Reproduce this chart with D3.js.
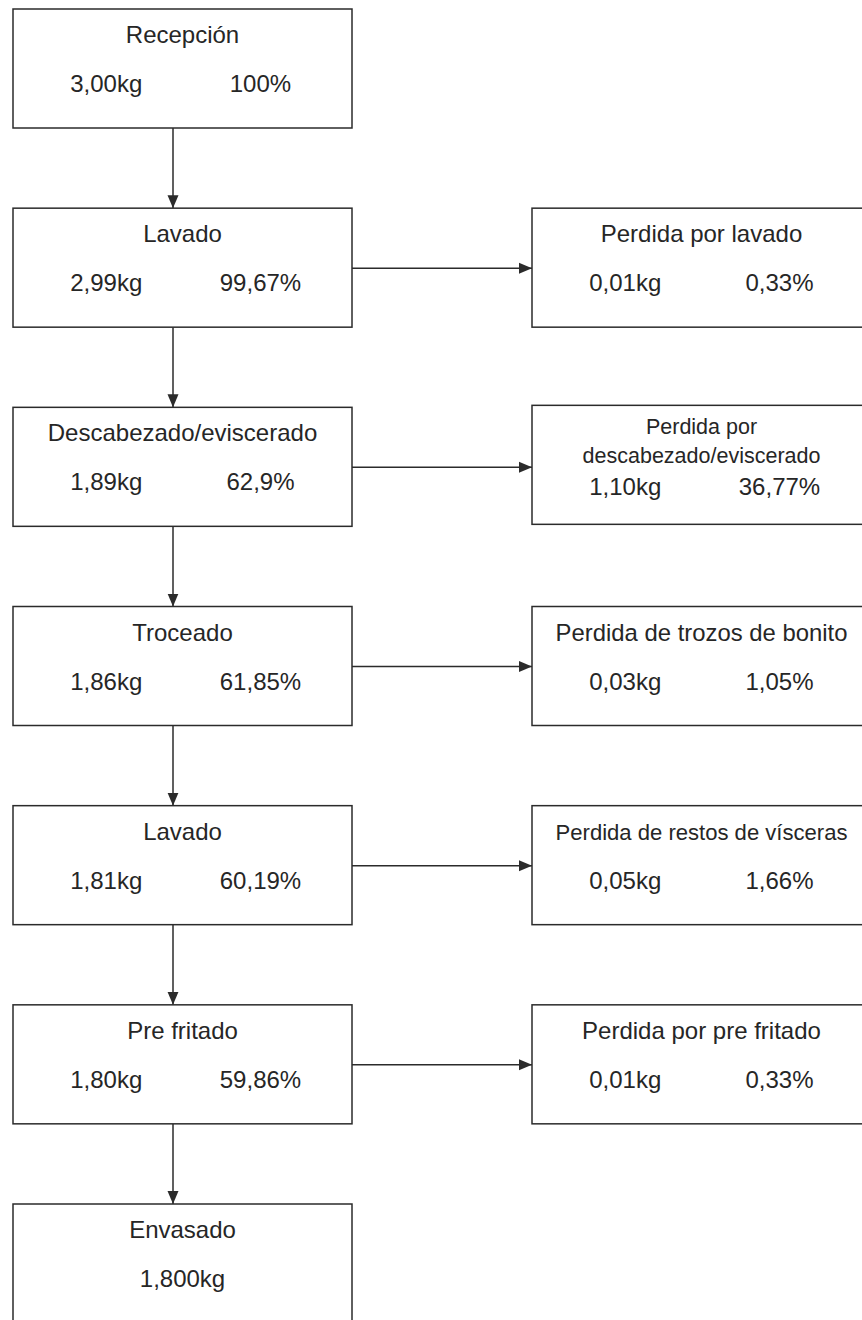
<!DOCTYPE html>
<html><head><meta charset="utf-8">
<script src="https://cdn.jsdelivr.net/npm/d3@7"></script>
<style>html,body{margin:0;padding:0;background:#fff;}svg{display:block;}</style>
</head><body>
<script>
// Data
const stepNames = ["Recepción","Lavado","Descabezado/eviscerado","Troceado","Lavado","Pre fritado","Envasado"];
const stepKg    = ["3,00kg","2,99kg","1,89kg","1,86kg","1,81kg","1,80kg","1,800kg"];
const stepPct   = ["100%","99,67%","62,9%","61,85%","60,19%","59,86%",null];
const lossStep  = [1,2,3,4,5];
const lossNames = ["Perdida por lavado","Perdida por\ndescabezado/eviscerado","Perdida de trozos de bonito","Perdida de restos de vísceras","Perdida por pre fritado"];
const lossKg    = ["0,01kg","1,10kg","0,03kg","0,05kg","0,01kg"];
const lossPct   = ["0,33%","36,77%","1,05%","1,66%","0,33%"];

const W = 862, H = 1320;
const boxW = 339, boxH = 119;
const FONT = "'Liberation Sans', Arial, sans-serif";
const INK = "#262626", LINE = "#2b2b2b";

const svg = d3.select("body").append("svg").attr("width", W).attr("height", H);

const defs = svg.append("defs");
defs.append("marker").attr("id","ah").attr("viewBox","0 0 13 12")
  .attr("refX",13).attr("refY",6).attr("markerWidth",13).attr("markerHeight",12)
  .attr("markerUnits","userSpaceOnUse").attr("orient","auto")
  .append("path").attr("d","M0,0.5 L13,6 L0,11.5 Z").attr("fill", LINE);

const y = d3.scaleLinear().domain([0, stepNames.length - 1]).range([9, 1204]);
const col = d3.scaleOrdinal().domain(["step","loss"]).range([13, 532]);
const inner = d3.scaleLinear().domain([0,1]).range([0, boxW]);

// vertical arrows
const arrowX = 173;
svg.append("g").selectAll("line").data(d3.range(stepNames.length - 1)).join("line")
  .attr("x1", arrowX).attr("x2", arrowX)
  .attr("y1", i => y(i) + boxH).attr("y2", i => y(i + 1))
  .attr("stroke", LINE).attr("stroke-width", 1.5).attr("marker-end","url(#ah)");

// horizontal arrows
svg.append("g").selectAll("line").data(lossStep).join("line")
  .attr("x1", col("step") + boxW).attr("x2", col("loss"))
  .attr("y1", s => y(s) + boxH/2 + 0.5).attr("y2", s => y(s) + boxH/2 + 0.5)
  .attr("stroke", LINE).attr("stroke-width", 1.5).attr("marker-end","url(#ah)");

function drawBox(g, x0, y0, title, kg, pct) {
  g.append("rect").attr("x", x0).attr("y", y0).attr("width", boxW).attr("height", boxH)
    .attr("fill","#fff").attr("stroke", LINE).attr("stroke-width", 1.5);
  const lines = title.split("\n");
  const multi = lines.length > 1;
  const t = g.append("text").attr("font-family", FONT).attr("fill", INK)
    .attr("text-anchor","middle").attr("font-size", multi ? 21.5 : 24);
  lines.forEach((ln, i) => {
    t.append("tspan").attr("x", x0 + inner(0.5)).attr("y", y0 + (multi ? 29 + i*29 : 34)).text(ln);
  });
  if (!multi) {
    const len = t.node().getComputedTextLength();
    const maxW = 292;
    if (len > maxW) t.attr("font-size", 24 * maxW / len);
  }
  const vy = y0 + (multi ? 90 : 83);
  if (pct === null) {
    g.append("text").attr("x", x0 + inner(0.5)).attr("y", vy).attr("text-anchor","middle")
      .attr("font-family", FONT).attr("font-size", 24).attr("fill", INK).text(kg);
  } else {
    g.append("text").attr("x", x0 + inner(0.275)).attr("y", vy).attr("text-anchor","middle")
      .attr("font-family", FONT).attr("font-size", 24).attr("fill", INK).text(kg);
    g.append("text").attr("x", x0 + inner(0.73)).attr("y", vy).attr("text-anchor","middle")
      .attr("font-family", FONT).attr("font-size", 24).attr("fill", INK).text(pct);
  }
}

const gs = svg.append("g");
stepNames.forEach((n, i) => drawBox(gs, col("step"), y(i), n, stepKg[i], stepPct[i]));
const gl = svg.append("g");
lossNames.forEach((n, i) => drawBox(gl, col("loss"), y(lossStep[i]) + (i === 1 ? -2 : 0), n, lossKg[i], lossPct[i]));
</script>
</body></html>
